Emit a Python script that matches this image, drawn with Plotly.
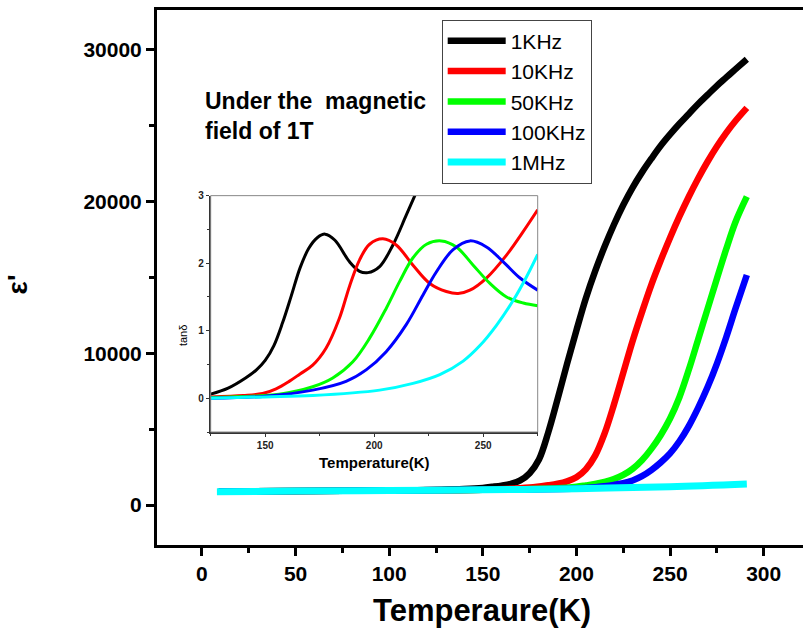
import plotly.graph_objects as go

# ---------------- main panel data: epsilon' vs T ----------------
series_names = ["1KHz", "10KHz", "50KHz", "100KHz", "1MHz"]
series_colors = ["#000000", "#FF0000", "#00FF00", "#0000FF", "#00FFFF"]

T_1k = [9, 60, 110, 140, 150, 155, 160, 165, 170, 175, 180, 185, 190, 195, 200, 205, 210, 215, 220, 225, 230,
        235, 240, 245, 250, 255, 260, 265, 270, 275, 280, 285, 291]
E_1k = [885, 930, 975, 1060, 1130, 1200, 1280, 1400, 1620, 2100, 3000, 4800, 7000, 9300, 11500, 13600, 15400,
        17000, 18450, 19750, 20900, 21900, 22800, 23650, 24400, 25100, 25750, 26400, 27000, 27600, 28150, 28700, 29350]

T_10k = [9, 100, 150, 175, 185, 190, 195, 200, 205, 210, 215, 220, 225, 230, 235, 240, 245, 250, 255, 260, 265,
         270, 275, 280, 285, 291]
E_10k = [885, 960, 1010, 1150, 1300, 1400, 1560, 1830, 2350, 3250, 4700, 6600, 8700, 10800, 12700, 14500, 16100,
         17600, 19000, 20300, 21500, 22600, 23600, 24500, 25300, 26150]

T_50k = [9, 100, 150, 190, 200, 205, 210, 215, 220, 225, 230, 235, 240, 245, 250, 255, 260, 265, 270, 275, 280,
         285, 291]
E_50k = [885, 960, 1000, 1100, 1200, 1290, 1390, 1530, 1710, 1980, 2380, 2950, 3700, 4600, 5700, 7100, 8900,
         10900, 12900, 14900, 16850, 18650, 20300]

T_100k = [9, 100, 150, 200, 210, 215, 220, 225, 230, 235, 240, 245, 250, 255, 260, 265, 270, 275, 280, 285, 291]
E_100k = [885, 960, 1000, 1090, 1170, 1240, 1330, 1440, 1620, 1900, 2300, 2800, 3400, 4200, 5200, 6400, 7750,
          9300, 11050, 12950, 15150]

T_1M = [8, 50, 100, 150, 200, 250, 291]
E_1M = [880, 920, 960, 1000, 1080, 1200, 1380]

main_T = [T_1k, T_10k, T_50k, T_100k, T_1M]
main_E = [E_1k, E_10k, E_50k, E_100k, E_1M]

# ---------------- inset data: tan(delta) vs T ----------------
iT_1k = [125, 133, 141, 146, 150, 154, 158, 162, 166, 170, 174, 177.5, 182, 188.7, 193.3, 197.1, 202.5, 208.6, 214.7, 220]
iV_1k = [0.06, 0.15, 0.30, 0.42, 0.56, 0.78, 1.12, 1.52, 1.93, 2.22, 2.38, 2.43, 2.34, 2.02, 1.88, 1.86, 1.95, 2.27, 2.71, 3.1]

iT_10k = [125, 140, 148.8, 155, 161, 166, 171.8, 177.9, 184, 188.7, 193.3, 197.9, 204, 210.1, 217.8, 225.5, 233.1,
          238.5, 243.9, 251.5, 260.7, 268.4, 275]
iV_10k = [0.02, 0.04, 0.07, 0.14, 0.25, 0.36, 0.49, 0.74, 1.18, 1.66, 2.05, 2.28, 2.36, 2.27, 1.97, 1.70, 1.58,
          1.55, 1.60, 1.78, 2.12, 2.47, 2.79]

iT_50k = [125, 156.4, 171.8, 181, 190.2, 197.9, 205.5, 211.7, 217.8, 224, 230.8, 237.7, 245.4, 253.1, 260.7, 268.4, 275]
iV_50k = [0.01, 0.06, 0.17, 0.30, 0.54, 0.89, 1.33, 1.73, 2.08, 2.28, 2.33, 2.24, 1.97, 1.70, 1.50, 1.41, 1.37]

iT_100k = [125, 150, 171.8, 187.1, 196.3, 205.5, 214.7, 222.4, 228.5, 236.2, 243.9, 251.5, 259.2, 266.9, 275]
iV_100k = [0.0, 0.03, 0.12, 0.25, 0.42, 0.69, 1.09, 1.53, 1.87, 2.20, 2.33, 2.24, 2.02, 1.78, 1.60]

iT_1M = [125, 150, 171.8, 202.5, 217.8, 230.1, 240.8, 248.5, 256.1, 263.8, 269.9, 275]
iV_1M = [0.0, 0.02, 0.04, 0.12, 0.22, 0.35, 0.55, 0.78, 1.08, 1.45, 1.80, 2.13]

inset_T = [iT_1k, iT_10k, iT_50k, iT_100k, iT_1M]
inset_V = [iV_1k, iV_10k, iV_50k, iV_100k, iV_1M]

x_ticks = [0, 50, 100, 150, 200, 250, 300]
y_ticks = [0, 10000, 20000, 30000]
ix_ticks = [150, 200, 250]
iy_ticks = [0, 1, 2, 3]

FONT = "Liberation Sans, Arial, sans-serif"

fig = go.Figure()

for name, color, tx, ey in zip(series_names, series_colors, main_T, main_E):
    fig.add_trace(go.Scatter(
        x=tx, y=ey, mode="lines", name=name,
        line=dict(color=color, width=6.5 if name != "1MHz" else 7, shape="spline", smoothing=1.0),
        xaxis="x", yaxis="y", showlegend=True,
    ))

for name, color, tx, vy in zip(series_names, series_colors, inset_T, inset_V):
    fig.add_trace(go.Scatter(
        x=tx, y=vy, mode="lines", name=name,
        line=dict(color=color, width=3, shape="spline", smoothing=1.0),
        xaxis="x2", yaxis="y2", showlegend=False,
    ))

tick_font = dict(family=FONT, size=21, color="black", weight="bold")

fig.update_layout(
    width=803, height=635,
    margin=dict(l=157, r=0, t=10, b=90),
    paper_bgcolor="white", plot_bgcolor="white",
    font=dict(family=FONT, color="black"),
    xaxis=dict(
        domain=[0, 1], range=[-24, 321],
        tickvals=x_ticks, ticks="outside", ticklen=8, tickwidth=3, tickcolor="black",
        showline=True, linewidth=3, linecolor="black", mirror=True,
        showgrid=False, zeroline=False, tickfont=tick_font,
        minor=dict(dtick=25, tick0=0, ticks="outside", ticklen=5, tickwidth=3, tickcolor="black", showgrid=False),
    ),
    yaxis=dict(
        domain=[0, 1], range=[-2630, 32590],
        tickvals=y_ticks, tickformat="d", ticks="outside", ticklen=8, tickwidth=3, tickcolor="black",
        showline=True, linewidth=3, linecolor="black", mirror=False,
        showgrid=False, zeroline=False, tickfont=tick_font,
        minor=dict(dtick=5000, tick0=0, ticks="outside", ticklen=5, tickwidth=3, tickcolor="black", showgrid=False),
    ),
    xaxis2=dict(
        domain=[0.0831, 0.5893], anchor="y2", range=[125, 275],
        tickvals=ix_ticks, ticks="outside", ticklen=3, tickwidth=1, tickcolor="#333",
        showline=True, linewidth=1.5, linecolor="#333", mirror=False,
        showgrid=False, zeroline=False,
        tickfont=dict(family=FONT, size=10, color="#222", weight="bold"),
        minor=dict(dtick=25, tick0=0, ticks="outside", ticklen=2, tickwidth=1, tickcolor="#333", showgrid=False),
    ),
    yaxis2=dict(
        domain=[0.2112, 0.653], anchor="x2", range=[-0.5, 3],
        tickvals=iy_ticks, ticks="outside", ticklen=3, tickwidth=1, tickcolor="#333",
        showline=True, linewidth=1.5, linecolor="#333", mirror=False,
        showgrid=False, zeroline=False,
        tickfont=dict(family=FONT, size=10, color="#222", weight="bold"),
        minor=dict(dtick=0.5, tick0=0, ticks="outside", ticklen=2, tickwidth=1, tickcolor="#333", showgrid=False),
    ),
    legend=dict(
        x=0.4407, y=0.982, xanchor="left", yanchor="top",
        bgcolor="white", bordercolor="#444", borderwidth=1,
        font=dict(family=FONT, size=21, color="black"),
        itemwidth=58, tracegroupgap=0,
    ),
    shapes=[
        dict(type="rect", xref="x2 domain", yref="y2 domain", x0=0, x1=1, y0=0, y1=1,
             line=dict(color="#888", width=1), fillcolor="rgba(0,0,0,0)", layer="above"),
    ],
    annotations=[
        dict(text="Under the \u00a0magnetic<br>field of 1T", xref="paper", yref="paper",
             x=0.0712, y=0.858, xanchor="left", yanchor="top", align="left", showarrow=False,
             font=dict(family=FONT, size=23, color="black", weight="bold")),
        dict(text="Temperaure(K)", xref="paper", yref="paper", x=0.503, y=-0.1215,
             xanchor="center", yanchor="middle", showarrow=False,
             font=dict(family=FONT, size=31, color="black", weight="bold")),
        dict(text="ε'", xref="paper", yref="paper", x=-0.216, y=0.488, textangle=-90,
             xanchor="center", yanchor="middle", showarrow=False,
             font=dict(family=FONT, size=28, color="black", weight="bold")),
        dict(text="tanδ", xref="paper", yref="paper", x=0.040, y=0.392, textangle=-90,
             xanchor="center", yanchor="middle", showarrow=False,
             font=dict(family=FONT, size=11, color="black")),
        dict(text="Temperature(K)", xref="paper", yref="paper", x=0.336, y=0.155,
             xanchor="center", yanchor="middle", showarrow=False,
             font=dict(family=FONT, size=15, color="black", weight="bold")),
    ],
)

fig.write_html("out.html")
